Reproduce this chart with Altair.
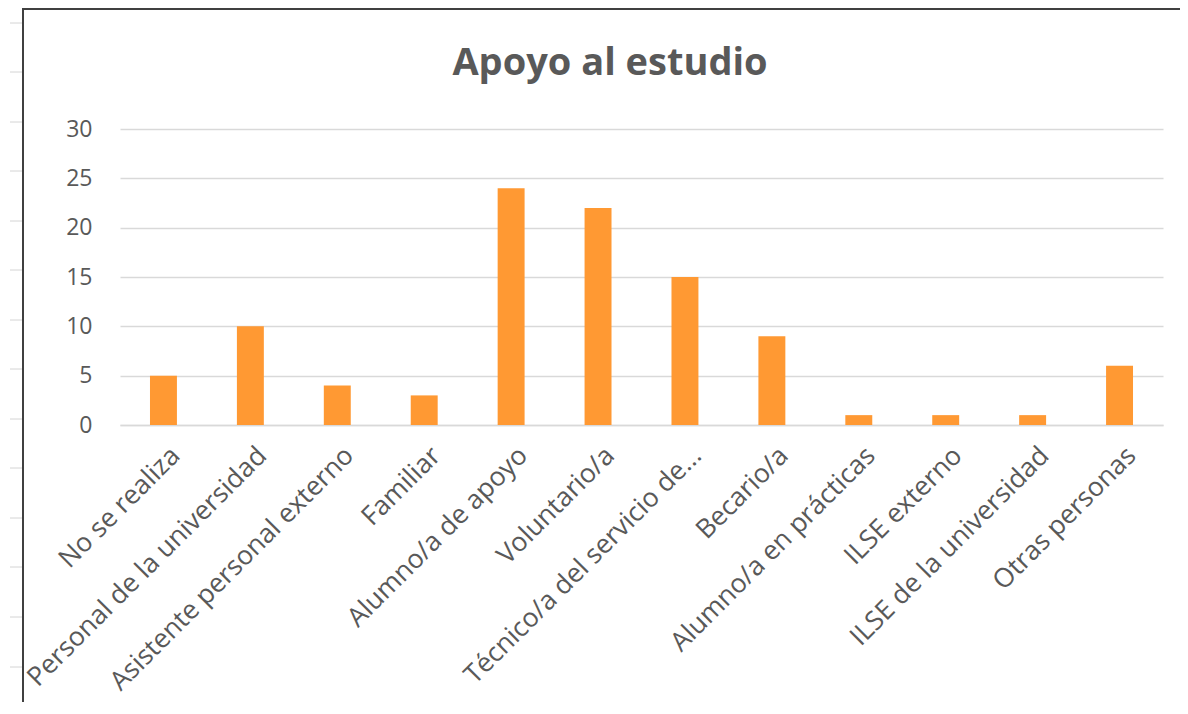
import altair as alt
import pandas as pd

title_text = ["Apoyo al estudio"]
categories = [
    "No se realiza",
    "Personal de la universidad",
    "Asistente personal externo",
    "Familiar",
    "Alumno/a de apoyo",
    "Voluntario/a",
    "Técnico/a del servicio de...",
    "Becario/a",
    "Alumno/a en prácticas",
    "ILSE externo",
    "ILSE de la universidad",
    "Otras personas",
]
values = [5, 10, 4, 3, 24, 22, 15, 9, 1, 1, 1, 6]
y_ticks = [0, 5, 10, 15, 20, 25, 30]

# spreadsheet row-border stubs on the left (page decoration, pixel rows)
sheet_rows = [23, 72, 122, 171, 221, 270, 320, 369, 419, 468, 518, 567, 617, 667]

FONT = "Open Sans"
TXT = "#595959"
W, H = 1043, 296
PAD_L, PAD_T, PAD_R, PAD_B = 112, 121, 17, 277

df = pd.DataFrame({"cat": categories, "val": values})
one = pd.DataFrame({"a": [0]})

bars = alt.Chart(df).mark_bar(color="#FF9933").encode(
    x=alt.X(
        "cat:N",
        sort=None,
        title=None,
        scale=alt.Scale(paddingInner=0.69, paddingOuter=0.345),
        axis=alt.Axis(
            labelAngle=-45,
            labelFont=FONT,
            labelFontSize=26.5,
            labelColor=TXT,
            labelLimit=0,
            labelPadding=17,
            labelOffset=3,
            ticks=False,
            domainColor="#D9D9D9",
            domainWidth=1.5,
            grid=False,
        ),
    ),
    y=alt.Y(
        "val:Q",
        title=None,
        scale=alt.Scale(domain=[0, 30], nice=False),
        axis=alt.Axis(
            values=y_ticks,
            labelFont=FONT,
            labelFontSize=23,
            labelColor=TXT,
            labelPadding=28,
            ticks=False,
            domain=False,
            gridColor="#D9D9D9",
            gridWidth=1.5,
        ),
    ),
)

title = alt.Chart(pd.DataFrame({"t": title_text})).mark_text(
    font=FONT,
    fontSize=38,
    fontWeight="bold",
    color=TXT,
    align="center",
    baseline="alphabetic",
).encode(text="t:N", x=alt.value(610 - 8 - PAD_L), y=alt.value(75 - 8 - PAD_T))

stubs = [
    alt.Chart(one).mark_rule(color="#D4D4D4", strokeWidth=1).encode(
        y=alt.value(r - 8 - PAD_T),
        x=alt.value(-PAD_L + 2),
        x2=alt.value(-PAD_L + 14),
    )
    for r in sheet_rows
]

frame_left = alt.Chart(one).mark_rule(color="#404040", strokeWidth=2).encode(
    x=alt.value(-PAD_L + 15), y=alt.value(-PAD_T), y2=alt.value(H + PAD_B)
)
frame_top = alt.Chart(one).mark_rule(color="#404040", strokeWidth=2).encode(
    x=alt.value(-PAD_L + 14), x2=alt.value(W + PAD_R), y=alt.value(-PAD_T + 1)
)

chart = (
    alt.layer(bars, title, *stubs, frame_left, frame_top)
    .properties(
        width=W,
        height=H,
        background="white",
        autosize=alt.AutoSizeParams(type="none"),
        padding={"left": PAD_L, "top": PAD_T, "right": PAD_R, "bottom": PAD_B},
    )
    .configure_view(strokeWidth=0)
)

chart.save("out.html", embed_options={"renderer": "svg", "actions": False})
